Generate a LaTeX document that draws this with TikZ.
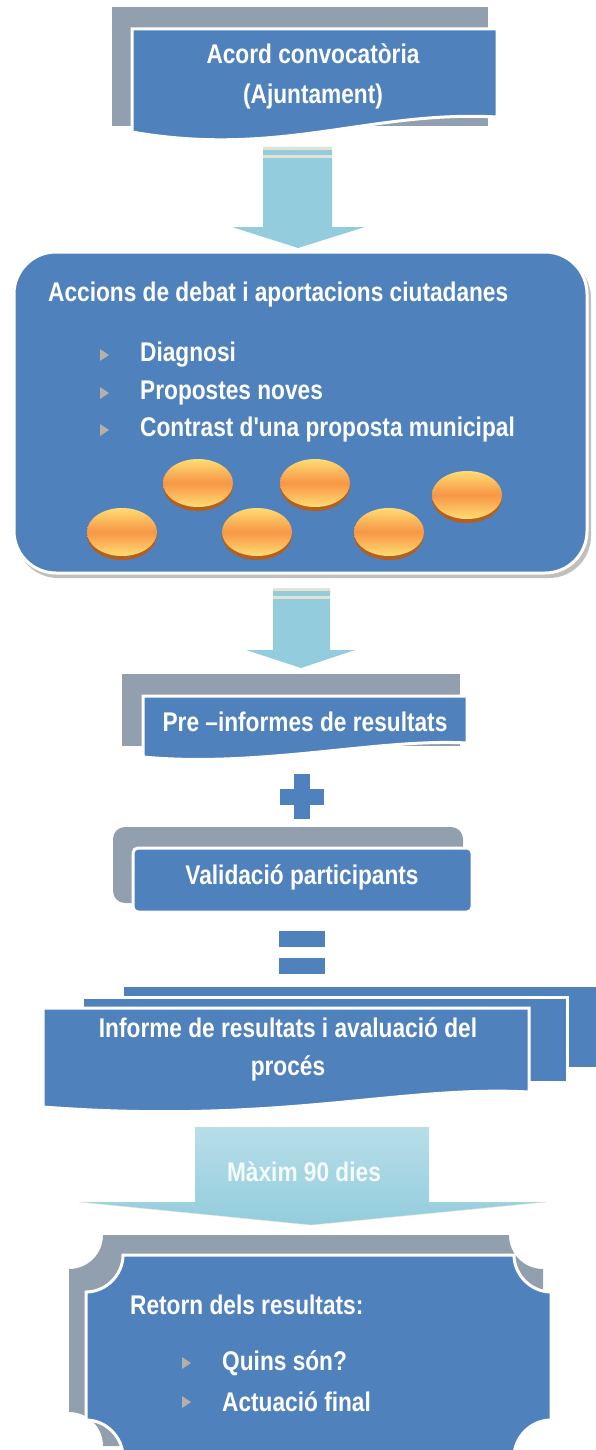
\documentclass[tikz,border=0pt]{standalone}
\usepackage{fontspec}
\newfontfamily\flowfont{Liberation Sans}[FakeStretch=0.84]
\usetikzlibrary{positioning}
\definecolor{boxblue}{HTML}{4F81BD}
\definecolor{backgray}{HTML}{929FAF}
\definecolor{flowcyan}{HTML}{93CDDD}
\definecolor{flowlight}{HTML}{B7DEE8}
\definecolor{stripe}{HTML}{E4E2D2}
\definecolor{coinorange}{HTML}{F79646}
\definecolor{coinyellow}{HTML}{FFDC73}
\definecolor{coinrim}{HTML}{B45F1E}
\definecolor{bulletgray}{HTML}{B4AFA8}

\begin{document}
\begin{tikzpicture}[x=1pt, y=-1pt,
    boxtext/.style={text=white, font=\flowfont\bfseries\fontsize{27}{40}\selectfont, inner sep=0pt, align=center},
    frontshape/.style={fill=boxblue, draw=white, line width=3pt},
    backshape/.style={fill=backgray},
    flow/.style={fill=flowcyan},
    stripeband/.style={fill=stripe},
    coin/.style={top color=coinyellow, bottom color=coinyellow, middle color=coinorange},
    bulletmark/.style={fill=bulletgray}
]
    \useasboundingbox (0,0) rectangle (595,1450);

    % Acord convocatoria
    \fill[backshape] (112,7) rectangle (488,126);
    \draw[frontshape] (132,29) -- (497,29) -- (497,117) .. controls (370,110) and (280,158) .. (132,132) -- cycle;
    \node[boxtext] (acord) at (313,76) {Acord convocatòria\\(Ajuntament)};

    \fill[flow] (263,147) -- (332,147) -- (332,227) -- (365,227) -- (298,248) -- (232,227) -- (263,227) -- cycle;
    \fill[stripeband] (263,147) rectangle (332,150);
    \fill[stripeband] (263,155) rectangle (332,158);

    % Accions de debat
    \fill[black!25, rounded corners=42pt] (16,256) rectangle (591,578);
    \draw[frontshape, rounded corners=42pt] (14,252) rectangle (587,573);
    \node[boxtext, anchor=west] (accions) at (48,295) {Accions de debat i aportacions ciutadanes};
    \node[boxtext, anchor=west] (diag) at (140,355) {Diagnosi};
    \node[boxtext, anchor=west] (noves) at (140,393) {Propostes noves};
    \node[boxtext, anchor=west] (contrast) at (140,430) {Contrast d'una proposta municipal};
    \foreach \y in {355,393,430}
        \fill[bulletmark] (100,\y-6) -- (109,\y) -- (100,\y+6) -- cycle;
    \foreach \cx/\cy in {198/483, 315/483, 467/495, 122/532, 257/532, 389/532} {
        \fill[coinrim] (\cx,\cy+3) ellipse [x radius=35pt, y radius=25pt];
        \shade[coin] (\cx,\cy) ellipse [x radius=35pt, y radius=24pt];
    }

    \fill[flow] (273,588) -- (330,588) -- (330,650) -- (355,650) -- (301,668) -- (246,650) -- (273,650) -- cycle;
    \fill[stripeband] (273,588) rectangle (330,591);
    \fill[stripeband] (273,596) rectangle (330,599);

    % Pre-informes + validacio
    \fill[backshape] (122,674) rectangle (460,746);
    \draw[frontshape] (143,696) -- (467,696) -- (467,743) .. controls (380,738) and (260,768) .. (143,757) -- cycle;
    \node[boxtext] (pre) at (305,722) {Pre –informes de resultats};

    \fill[boxblue] (280,789) rectangle (324,805);
    \fill[boxblue] (294,774) rectangle (310,819);

    \fill[backshape, rounded corners=12pt] (113,827) rectangle (463,903);
    \draw[frontshape, rounded corners=5pt] (133,848) rectangle (472,912);
    \node[boxtext] (valid) at (302,877) {Validació participants};

    \fill[boxblue] (279,931) rectangle (325,947);
    \fill[boxblue] (279,958) rectangle (325,974);

    % Informe de resultats
    \draw[frontshape] (122,985) -- (620,985) -- (620,1068) -- (122,1068) -- cycle;
    \draw[frontshape] (82,997) -- (567,997) -- (567,1082) -- (82,1082) -- cycle;
    \draw[frontshape] (43,1008) -- (529,1008) -- (529,1092) .. controls (400,1085) and (280,1125) .. (43,1107) -- cycle;
    \node[boxtext, font=\flowfont\bfseries\fontsize{27}{38}\selectfont] (informe) at (288,1049) {Informe de resultats i avaluació del\\procés};

    \shade[top color=flowlight, bottom color=flowcyan, draw=stripe] (195,1127) -- (429,1127) -- (429,1202) -- (546,1202) -- (311,1225) -- (79,1202) -- (195,1202) -- cycle;
    \node[boxtext, text=white!92!flowcyan] (maxim) at (304,1172) {Màxim 90 dies};

    % Retorn dels resultats
    \fill[backshape] (69,1269) .. controls (88,1269) and (103,1254) .. (103,1235) -- (509,1235) .. controls (509,1254) and (524,1269) .. (543,1269) -- (543,1412) .. controls (524,1412) and (509,1427) .. (509,1446) -- (103,1446) .. controls (103,1427) and (88,1412) .. (69,1412) -- cycle;
    \draw[frontshape] (86,1292) .. controls (106,1292) and (123,1275) .. (123,1255) -- (514,1255) .. controls (514,1275) and (531,1292) .. (551,1292) -- (551,1420) .. controls (531,1420) and (514,1437) .. (514,1457) -- (123,1457) .. controls (123,1437) and (106,1420) .. (86,1420) -- cycle;
    \node[boxtext, anchor=west] (retorn) at (130,1305) {Retorn dels resultats:};
    \node[boxtext, anchor=west] (quins) at (222,1363) {Quins són?};
    \node[boxtext, anchor=west] (actua) at (222,1402) {Actuació final};
    \foreach \y in {1363,1402}
        \fill[bulletmark] (182,\y-6) -- (191,\y) -- (182,\y+6) -- cycle;
\end{tikzpicture}
\end{document}
